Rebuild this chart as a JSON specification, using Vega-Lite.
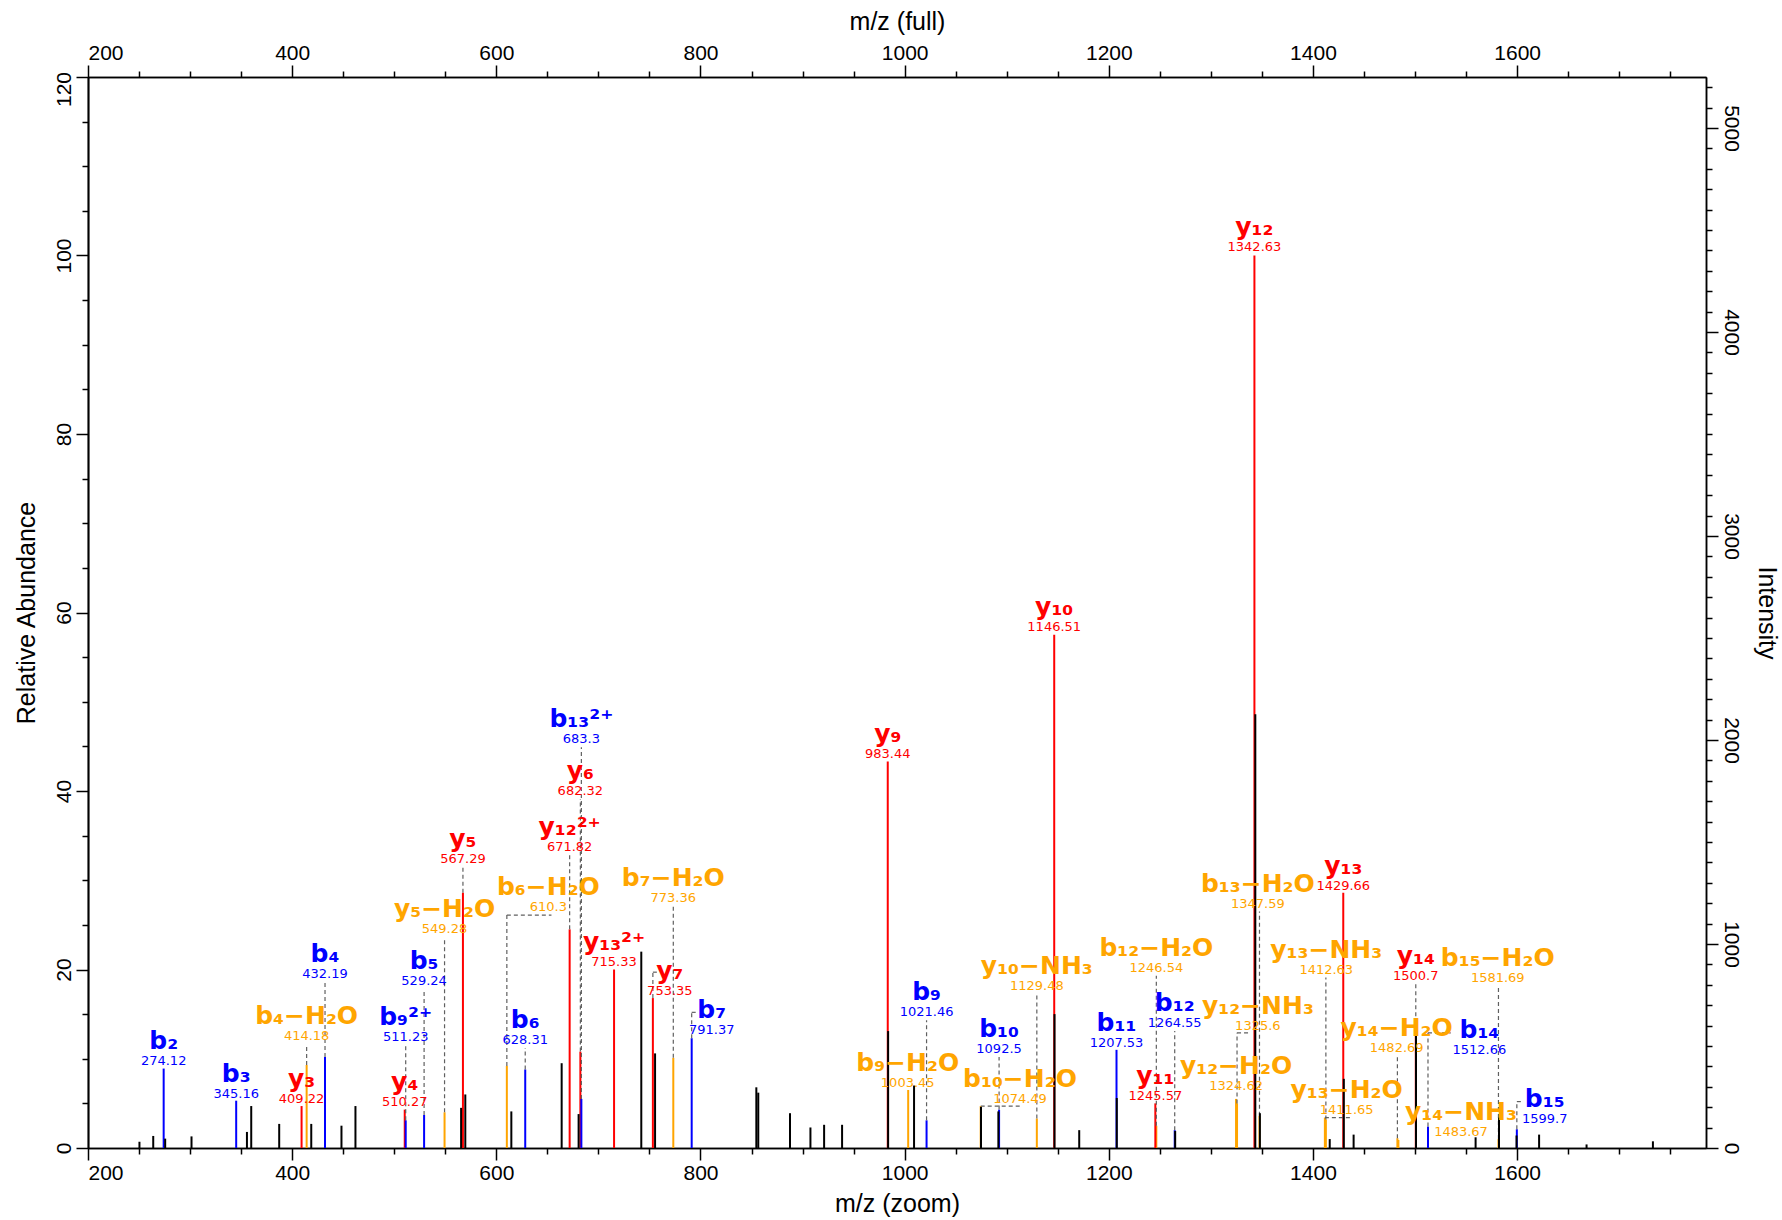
{
  "$schema": "https://vega.github.io/schema/vega-lite/v6.json",
  "width": 1618,
  "height": 1071,
  "autosize": "none",
  "padding": {"left": 88, "top": 77, "right": 76, "bottom": 72},
  "background": "white",
  "config": {
    "view": {"stroke": null},
    "axis": {
      "domainColor": "#000", "domainWidth": 1.5, "tickColor": "#000", "tickWidth": 1.5,
      "labelColor": "#000", "titleColor": "#000",
      "labelFont": "Liberation Sans Narrow, Liberation Sans, Arial",
      "titleFont": "Liberation Sans, Arial",
      "labelFontSize": 21, "titleFontSize": 25, "titleFontWeight": "normal",
      "grid": false, "labelPadding": 2, "format": "d"
    }
  },
  "datasets": {
    "peaks": [
      {"mz": 250.4, "ra": 0.7}, {"mz": 263.9, "ra": 1.35}, {"mz": 275.6, "ra": 1.05}, {"mz": 301.4, "ra": 1.3},
      {"mz": 355.7, "ra": 1.8}, {"mz": 359.9, "ra": 4.7}, {"mz": 387.3, "ra": 2.7}, {"mz": 418.7, "ra": 2.7},
      {"mz": 448.3, "ra": 2.5}, {"mz": 462.0, "ra": 4.7}, {"mz": 565.5, "ra": 4.5}, {"mz": 569.6, "ra": 6.0},
      {"mz": 614.7, "ra": 4.1}, {"mz": 664.0, "ra": 9.5}, {"mz": 680.6, "ra": 3.8}, {"mz": 742.0, "ra": 22.0},
      {"mz": 755.5, "ra": 10.6}, {"mz": 854.7, "ra": 6.8}, {"mz": 856.6, "ra": 6.2}, {"mz": 887.7, "ra": 3.9},
      {"mz": 907.7, "ra": 2.3}, {"mz": 921.1, "ra": 2.6}, {"mz": 938.7, "ra": 2.6}, {"mz": 983.8, "ra": 13.1},
      {"mz": 1009.2, "ra": 7.0}, {"mz": 1074.8, "ra": 4.6}, {"mz": 1091.8, "ra": 4.1}, {"mz": 1146.8, "ra": 15.0},
      {"mz": 1171.0, "ra": 2.0}, {"mz": 1207.8, "ra": 5.6}, {"mz": 1265.0, "ra": 1.9}, {"mz": 1343.5, "ra": 48.6},
      {"mz": 1348.0, "ra": 3.9}, {"mz": 1416.4, "ra": 1.0}, {"mz": 1430.2, "ra": 7.75}, {"mz": 1439.8, "ra": 1.5},
      {"mz": 1500.9, "ra": 13.3}, {"mz": 1559.3, "ra": 1.2}, {"mz": 1582.2, "ra": 3.4}, {"mz": 1599.4, "ra": 1.4},
      {"mz": 1621.5, "ra": 1.5}, {"mz": 1668.0, "ra": 0.4}, {"mz": 1733.0, "ra": 0.75}
    ],
    "ann": [
      {"ion": "b₂", "t": "274.12", "c": "b", "mz": 274.12, "ra": 8.9, "lx": 274.12, "ly": 9.7},
      {"ion": "b₃", "t": "345.16", "c": "b", "mz": 345.16, "ra": 5.3, "lx": 345.16, "ly": 6.1},
      {"ion": "y₃", "t": "409.22", "c": "y", "mz": 409.22, "ra": 4.7, "lx": 409.22, "ly": 5.5},
      {"ion": "b₄−H₂O", "t": "414.18", "c": "n", "mz": 414.18, "ra": 9.3, "lx": 414.18, "ly": 12.6, "hy": 11.6},
      {"ion": "b₄", "t": "432.19", "c": "b", "mz": 432.19, "ra": 10.2, "lx": 432.19, "ly": 19.5, "hy": 18.5},
      {"ion": "y₄", "t": "510.27", "c": "y", "mz": 510.27, "ra": 4.3, "lx": 510.27, "ly": 5.1},
      {"ion": "b₉²⁺", "t": "511.23", "c": "b", "mz": 511.23, "ra": 3.1, "lx": 511.23, "ly": 12.4, "hy": 11.5},
      {"ion": "b₅", "t": "529.24", "c": "b", "mz": 529.24, "ra": 3.7, "lx": 529.24, "ly": 18.7, "hy": 17.8},
      {"ion": "y₅−H₂O", "t": "549.28", "c": "n", "mz": 549.28, "ra": 4.0, "lx": 549.28, "ly": 24.5, "hy": 23.6},
      {"ion": "y₅", "t": "567.29", "c": "y", "mz": 567.29, "ra": 28.6, "lx": 567.29, "ly": 32.4, "hy": 31.5},
      {"ion": "b₆−H₂O", "t": "610.3", "c": "n", "mz": 610.3, "ra": 9.2, "lx": 651, "ly": 27.0, "hy": 26.1, "hx": 654},
      {"ion": "b₆", "t": "628.31", "c": "b", "mz": 628.31, "ra": 8.8, "lx": 628.31, "ly": 12.1, "hy": 11.2},
      {"ion": "y₁₂²⁺", "t": "671.82", "c": "y", "mz": 671.82, "ra": 24.5, "lx": 671.82, "ly": 33.7, "hy": 32.8},
      {"ion": "y₆", "t": "682.32", "c": "y", "mz": 682.32, "ra": 10.8, "lx": 682.32, "ly": 40.0, "hy": 39.1},
      {"ion": "b₁₃²⁺", "t": "683.3", "c": "b", "mz": 683.3, "ra": 5.5, "lx": 683.3, "ly": 45.8, "hy": 44.9},
      {"ion": "y₁₃²⁺", "t": "715.33", "c": "y", "mz": 715.33, "ra": 20.0, "lx": 715.33, "ly": 20.8},
      {"ion": "y₇", "t": "753.35", "c": "y", "mz": 753.35, "ra": 16.8, "lx": 770, "ly": 17.6, "hy": 19.7, "hx": 758},
      {"ion": "b₇−H₂O", "t": "773.36", "c": "n", "mz": 773.36, "ra": 10.1, "lx": 773.36, "ly": 28.0, "hy": 27.1},
      {"ion": "b₇", "t": "791.37", "c": "b", "mz": 791.37, "ra": 12.3, "lx": 811, "ly": 13.2, "hy": 15.2, "hx": 797},
      {"ion": "y₉", "t": "983.44", "c": "y", "mz": 983.44, "ra": 43.3, "lx": 983.44, "ly": 44.2},
      {"ion": "b₉−H₂O", "t": "1003.45", "c": "n", "mz": 1003.45, "ra": 6.5, "lx": 1003, "ly": 7.3},
      {"ion": "b₉", "t": "1021.46", "c": "b", "mz": 1021.46, "ra": 3.1, "lx": 1021.46, "ly": 15.2, "hy": 14.3},
      {"ion": "b₁₀−H₂O", "t": "1074.49", "c": "n", "mz": 1074.49, "ra": 4.7, "lx": 1113, "ly": 5.5, "hy": 4.7, "hx": 1114},
      {"ion": "b₁₀", "t": "1092.5", "c": "b", "mz": 1092.5, "ra": 4.3, "lx": 1092.5, "ly": 11.1, "hy": 10.2},
      {"ion": "y₁₀−NH₃", "t": "1129.48", "c": "n", "mz": 1129.48, "ra": 3.3, "lx": 1129.48, "ly": 18.1, "hy": 17.2},
      {"ion": "y₁₀", "t": "1146.51", "c": "y", "mz": 1146.51, "ra": 57.5, "lx": 1146.51, "ly": 58.4},
      {"ion": "b₁₁", "t": "1207.53", "c": "b", "mz": 1207.53, "ra": 11.0, "lx": 1207.53, "ly": 11.8},
      {"ion": "b₁₂−H₂O", "t": "1246.54", "c": "n", "mz": 1246.54, "ra": 2.5, "lx": 1246.54, "ly": 20.2, "hy": 19.3},
      {"ion": "y₁₁", "t": "1245.57", "c": "y", "mz": 1245.57, "ra": 5.0, "lx": 1245.57, "ly": 5.8},
      {"ion": "b₁₂", "t": "1264.55", "c": "b", "mz": 1264.55, "ra": 2.0, "lx": 1264.55, "ly": 14.0, "hy": 13.1},
      {"ion": "y₁₂−H₂O", "t": "1324.62", "c": "n", "mz": 1324.62, "ra": 5.5, "lx": 1324.62, "ly": 6.9},
      {"ion": "y₁₂−NH₃", "t": "1325.6", "c": "n", "mz": 1325.6, "ra": 5.0, "lx": 1346, "ly": 13.7, "hy": 12.9, "hx": 1339},
      {"ion": "y₁₂", "t": "1342.63", "c": "y", "mz": 1342.63, "ra": 100, "lx": 1342.63, "ly": 101.0},
      {"ion": "b₁₃−H₂O", "t": "1347.59", "c": "n", "mz": 1347.59, "ra": 3.6, "lx": 1346, "ly": 27.3, "hy": 26.5},
      {"ion": "y₁₃−H₂O", "t": "1411.65", "c": "n", "mz": 1411.65, "ra": 3.4, "lx": 1433, "ly": 4.3, "hy": 3.4, "hx": 1437},
      {"ion": "y₁₃−NH₃", "t": "1412.63", "c": "n", "mz": 1412.63, "ra": 3.2, "lx": 1413, "ly": 19.9, "hy": 19.1},
      {"ion": "y₁₃", "t": "1429.66", "c": "y", "mz": 1429.66, "ra": 28.6, "lx": 1429.66, "ly": 29.4},
      {"ion": "y₁₄−H₂O", "t": "1482.69", "c": "n", "mz": 1482.69, "ra": 1.1, "lx": 1482, "ly": 11.2, "hy": 10.3},
      {"ion": "y₁₄−NH₃", "t": "1483.67", "c": "n", "mz": 1483.67, "ra": 0.9, "lx": 1545, "ly": 1.8},
      {"ion": "y₁₄", "t": "1500.7", "c": "y", "mz": 1500.7, "ra": 13.2, "lx": 1500.7, "ly": 19.3, "hy": 18.5},
      {"ion": "b₁₄", "t": "1512.66", "c": "b", "mz": 1512.66, "ra": 2.4, "lx": 1563, "ly": 11.0, "hy": 12.9, "hx": 1535},
      {"ion": "b₁₅−H₂O", "t": "1581.69", "c": "n", "mz": 1581.69, "ra": 1.0, "lx": 1581, "ly": 19.1, "hy": 18.2},
      {"ion": "b₁₅", "t": "1599.7", "c": "b", "mz": 1599.7, "ra": 2.1, "lx": 1627, "ly": 3.2, "hy": 5.2, "hx": 1604}
    ]
  },
  "layer": [
    {
      "layer": [
        {
          "data": {"name": "ann"},
          "mark": {"type": "rule", "strokeWidth": 2},
          "encoding": {
            "x": {"field": "mz", "type": "quantitative", "scale": {"domain": [200, 1785], "nice": false, "zero": false}, "axis": null},
            "y": {"field": "ra", "type": "quantitative", "scale": {"domain": [0, 120], "nice": false, "zero": false}, "axis": null},
            "y2": {"datum": 0},
            "color": {"field": "c", "type": "nominal", "scale": {"domain": ["b", "y", "n"], "range": ["#0000FF", "#FF0000", "#FFA500"]}, "legend": null}
          }
        },
        {
          "data": {"name": "ann"},
          "transform": [{"filter": "isValid(datum.hy)"}],
          "mark": {"type": "rule", "strokeWidth": 1.2, "strokeDash": [4, 3], "color": "#606060"},
          "encoding": {
            "x": {"field": "mz", "type": "quantitative", "axis": null},
            "y": {"field": "ra", "type": "quantitative", "axis": null},
            "y2": {"field": "hy"}
          }
        },
        {
          "data": {"name": "ann"},
          "transform": [{"filter": "isValid(datum.hx)"}],
          "mark": {"type": "rule", "strokeWidth": 1.2, "strokeDash": [4, 3], "color": "#606060"},
          "encoding": {
            "x": {"field": "mz", "type": "quantitative", "axis": null},
            "x2": {"field": "hx"},
            "y": {"field": "hy", "type": "quantitative", "axis": null}
          }
        },
        {
          "data": {"name": "peaks"},
          "mark": {"type": "rule", "strokeWidth": 2, "color": "#000000"},
          "encoding": {
            "x": {"field": "mz", "type": "quantitative", "axis": null},
            "y": {"field": "ra", "type": "quantitative", "axis": null},
            "y2": {"datum": 0}
          }
        },
        {
          "data": {"name": "ann"},
          "mark": {"type": "text", "font": "DejaVu Sans", "fontSize": 13, "baseline": "middle", "align": "center"},
          "encoding": {
            "x": {"field": "lx", "type": "quantitative", "axis": null},
            "y": {"field": "ly", "type": "quantitative", "axis": null},
            "text": {"field": "t"},
            "color": {"field": "c", "type": "nominal", "legend": null}
          }
        },
        {
          "data": {"name": "ann"},
          "mark": {"type": "text", "font": "DejaVu Sans", "fontWeight": "bold", "fontSize": 25, "baseline": "alphabetic", "align": "center", "dy": -12},
          "encoding": {
            "x": {"field": "lx", "type": "quantitative", "axis": null},
            "y": {"field": "ly", "type": "quantitative", "axis": null},
            "text": {"field": "ion"},
            "color": {"field": "c", "type": "nominal", "legend": null}
          }
        }
      ]
    },
    {
      "data": {"values": [{"m": 200, "r": 0}]},
      "mark": {"type": "point", "opacity": 0},
      "encoding": {
        "x": {"field": "m", "type": "quantitative", "scale": {"domain": [200, 1785], "nice": false, "zero": false},
              "axis": {"orient": "bottom", "values": [200, 400, 600, 800, 1000, 1200, 1400, 1600], "tickSize": 12, "labelFlush": true, "title": "m/z (zoom)", "titlePadding": 8}},
        "y": {"field": "r", "type": "quantitative", "scale": {"domain": [0, 120], "nice": false, "zero": false}, "axis": null}
      }
    },
    {
      "data": {"values": [{"m": 200, "r": 0}]},
      "mark": {"type": "point", "opacity": 0},
      "encoding": {
        "x": {"field": "m", "type": "quantitative", "scale": {"domain": [200, 1785], "nice": false, "zero": false},
              "axis": {"orient": "bottom", "values": [250, 300, 350, 450, 500, 550, 650, 700, 750, 850, 900, 950, 1050, 1100, 1150, 1250, 1300, 1350, 1450, 1500, 1550, 1650, 1700, 1750], "tickSize": 6, "labels": false, "title": null}},
        "y": {"field": "r", "type": "quantitative", "scale": {"domain": [0, 120], "nice": false, "zero": false}, "axis": null}
      }
    },
    {
      "data": {"values": [{"m": 200, "r": 0}]},
      "mark": {"type": "point", "opacity": 0},
      "encoding": {
        "x": {"field": "m", "type": "quantitative", "scale": {"domain": [200, 1785], "nice": false, "zero": false},
              "axis": {"orient": "top", "values": [200, 400, 600, 800, 1000, 1200, 1400, 1600], "tickSize": 12, "labelFlush": true, "title": "m/z (full)", "titlePadding": 8}},
        "y": {"field": "r", "type": "quantitative", "scale": {"domain": [0, 120], "nice": false, "zero": false}, "axis": null}
      }
    },
    {
      "data": {"values": [{"m": 200, "r": 0}]},
      "mark": {"type": "point", "opacity": 0},
      "encoding": {
        "x": {"field": "m", "type": "quantitative", "scale": {"domain": [200, 1785], "nice": false, "zero": false},
              "axis": {"orient": "top", "values": [250, 300, 350, 450, 500, 550, 650, 700, 750, 850, 900, 950, 1050, 1100, 1150, 1250, 1300, 1350, 1450, 1500, 1550, 1650, 1700, 1750], "tickSize": 6, "labels": false, "title": null}},
        "y": {"field": "r", "type": "quantitative", "scale": {"domain": [0, 120], "nice": false, "zero": false}, "axis": null}
      }
    },
    {
      "data": {"values": [{"m": 200, "r": 0}]},
      "mark": {"type": "point", "opacity": 0},
      "encoding": {
        "x": {"field": "m", "type": "quantitative", "scale": {"domain": [200, 1785], "nice": false, "zero": false}, "axis": null},
        "y": {"field": "r", "type": "quantitative", "scale": {"domain": [0, 120], "nice": false, "zero": false},
              "axis": {"orient": "left", "values": [0, 20, 40, 60, 80, 100], "tickSize": 12, "labelAngle": 270, "title": "Relative Abundance", "titlePadding": 14}}
      }
    },
    {
      "data": {"values": [{"m": 200, "r": 0}]},
      "mark": {"type": "point", "opacity": 0},
      "encoding": {
        "x": {"field": "m", "type": "quantitative", "scale": {"domain": [200, 1785], "nice": false, "zero": false}, "axis": null},
        "y": {"field": "r", "type": "quantitative", "scale": {"domain": [0, 120], "nice": false, "zero": false},
              "axis": {"orient": "left", "values": [120], "tickSize": 12, "labelAngle": 270, "labelOffset": 12, "title": null}}
      }
    },
    {
      "data": {"values": [{"m": 200, "r": 0}]},
      "mark": {"type": "point", "opacity": 0},
      "encoding": {
        "x": {"field": "m", "type": "quantitative", "scale": {"domain": [200, 1785], "nice": false, "zero": false}, "axis": null},
        "y": {"field": "r", "type": "quantitative", "scale": {"domain": [0, 120], "nice": false, "zero": false},
              "axis": {"orient": "left", "values": [5, 10, 15, 25, 30, 35, 45, 50, 55, 65, 70, 75, 85, 90, 95, 105, 110, 115], "tickSize": 6, "labels": false, "title": null}}
      }
    },
    {
      "data": {"values": [{"m": 200, "i": 0}]},
      "mark": {"type": "point", "opacity": 0},
      "encoding": {
        "x": {"field": "m", "type": "quantitative", "scale": {"domain": [200, 1785], "nice": false, "zero": false}, "axis": null},
        "y": {"field": "i", "type": "quantitative", "scale": {"domain": [0, 5250], "nice": false, "zero": false},
              "axis": {"orient": "right", "values": [0, 1000, 2000, 3000, 4000, 5000], "tickSize": 12, "labelAngle": 90, "title": "Intensity", "titlePadding": 12}}
      }
    },
    {
      "data": {"values": [{"m": 200, "i": 0}]},
      "mark": {"type": "point", "opacity": 0},
      "encoding": {
        "x": {"field": "m", "type": "quantitative", "scale": {"domain": [200, 1785], "nice": false, "zero": false}, "axis": null},
        "y": {"field": "i", "type": "quantitative", "scale": {"domain": [0, 5250], "nice": false, "zero": false},
              "axis": {"orient": "right", "values": [100, 200, 300, 400, 500, 600, 700, 800, 900, 1100, 1200, 1300, 1400, 1500, 1600, 1700, 1800, 1900, 2100, 2200, 2300, 2400, 2500, 2600, 2700, 2800, 2900, 3100, 3200, 3300, 3400, 3500, 3600, 3700, 3800, 3900, 4100, 4200, 4300, 4400, 4500, 4600, 4700, 4800, 4900, 5100, 5200], "tickSize": 6, "labels": false, "title": null}}
      }
    }
  ],
  "resolve": {"scale": {"x": "independent", "y": "independent"}, "axis": {"x": "independent", "y": "independent"}}
}
